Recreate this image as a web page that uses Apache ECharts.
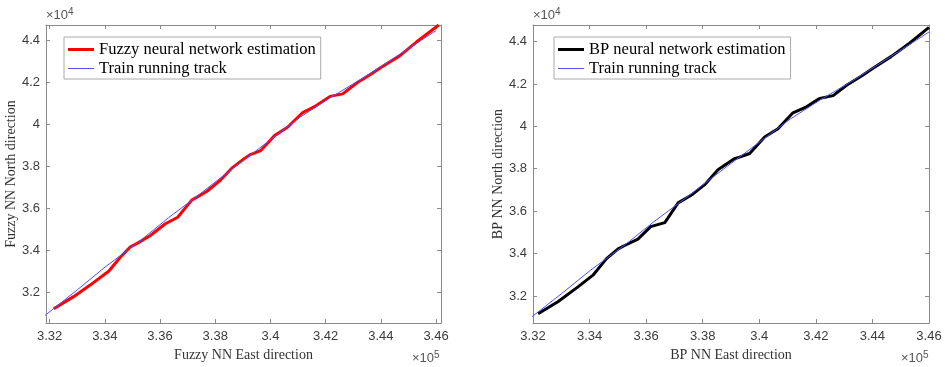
<!DOCTYPE html>
<html>
<head>
<meta charset="utf-8">
<script src="https://cdn.jsdelivr.net/npm/echarts@6/dist/echarts.min.js"></script>
<style>
html,body{margin:0;padding:0;background:#fff;}
#chart{width:945px;height:367px;}
</style>
</head>
<body>
<div id="chart"></div>
<script>
// Values in axis display units: East in ×10^5, North in ×10^4
const trackEast  = [3.3184, 3.3300, 3.3401, 3.3528, 3.3631, 3.3721, 3.3860, 3.3992, 3.4110, 3.4216, 3.4330, 3.4460, 3.4600];
const trackNorth = [3.089, 3.210, 3.319, 3.444, 3.554, 3.643, 3.785, 3.917, 4.035, 4.125, 4.215, 4.325, 4.445];

const fuzzyEast  = [3.3215, 3.3287, 3.3347, 3.3415, 3.3456, 3.3492, 3.3520, 3.3564, 3.3618, 3.3664, 3.3715, 3.3769, 3.3815, 3.3860, 3.3905, 3.3925, 3.3965, 3.4015, 3.4062, 3.4117, 3.4165, 3.4216, 3.4262, 3.4315, 3.4361, 3.4400, 3.4468, 3.4530, 3.4610];
const fuzzyNorth = [3.120, 3.178, 3.233, 3.300, 3.366, 3.414, 3.434, 3.468, 3.524, 3.556, 3.638, 3.679, 3.728, 3.790, 3.835, 3.853, 3.874, 3.945, 3.985, 4.055, 4.087, 4.132, 4.144, 4.198, 4.235, 4.270, 4.325, 4.392, 4.472];

const bpEast  = [3.3218, 3.3288, 3.3359, 3.3412, 3.3459, 3.3501, 3.3524, 3.3571, 3.3616, 3.3666, 3.3713, 3.3765, 3.3807, 3.3854, 3.3910, 3.3930, 3.3966, 3.4019, 3.4066, 3.4119, 3.4167, 3.4214, 3.4261, 3.4310, 3.4360, 3.4402, 3.4467, 3.4531, 3.4600];
const bpNorth = [3.116, 3.173, 3.243, 3.298, 3.375, 3.422, 3.438, 3.468, 3.527, 3.546, 3.639, 3.680, 3.725, 3.795, 3.846, 3.855, 3.872, 3.950, 3.989, 4.064, 4.092, 4.132, 4.145, 4.195, 4.236, 4.274, 4.330, 4.392, 4.467];

const xTicks = [3.32, 3.34, 3.36, 3.38, 3.40, 3.42, 3.44, 3.46];
const yTicks = [3.2, 3.4, 3.6, 3.8, 4.0, 4.2, 4.4];

const zip = (a, b) => a.map((v, i) => [v, b[i]]);
const fmt = v => String(parseFloat(v.toFixed(2)));

const axisCol = '#8a8a8a';
const labelCol = '#3c3c3c';
const sans = 'Liberation Sans';
const serif = 'Liberation Serif';

function xAx(grid, min, max, name, show) {
  return {
    type: 'value', gridIndex: grid, min: min, max: max,
    position: show ? 'bottom' : 'top',
    name: show ? name : '', nameLocation: 'middle', nameGap: 23,
    nameTextStyle: {fontFamily: serif, fontSize: 14, color: '#333'},
    axisLine: {show: true, onZero: false, lineStyle: {color: axisCol, width: 1}},
    axisTick: {show: true, inside: true, length: 4, customValues: xTicks, lineStyle: {color: axisCol}},
    axisLabel: {show: show, customValues: xTicks, formatter: fmt, margin: 7,
      fontFamily: sans, fontSize: 13, color: labelCol},
    splitLine: {show: false}
  };
}
function yAx(grid, min, max, name, show, gap) {
  return {
    type: 'value', gridIndex: grid, min: min, max: max,
    position: show ? 'left' : 'right',
    name: show ? name : '', nameLocation: 'middle', nameGap: gap,
    nameTextStyle: {fontFamily: serif, fontSize: 14, color: '#333'},
    axisLine: {show: true, onZero: false, lineStyle: {color: axisCol, width: 1}},
    axisTick: {show: true, inside: true, length: 4, customValues: yTicks, lineStyle: {color: axisCol}},
    axisLabel: {show: show, customValues: yTicks, formatter: fmt, margin: 6,
      fontFamily: sans, fontSize: 13, color: labelCol},
    splitLine: {show: false}
  };
}

const lineIcon = (w) => 'path://M0,0H26V' + w + 'H0Z';

function legend(left, estName) {
  return {
    left: left, top: 37, orient: 'vertical',
    backgroundColor: '#fff', borderColor: '#aaa', borderWidth: 1,
    padding: [4, 5, 2, 4], itemGap: 2, itemWidth: 26, itemHeight: 16,
    selectedMode: false,
    textStyle: {fontFamily: serif, fontSize: 16.5, color: '#000', lineHeight: 16},
    data: [
      {name: estName, icon: lineIcon(3)},
      {name: 'Train running track', icon: lineIcon(1)}
    ]
  };
}

function expText(left, top, e) {
  return {
    type: 'text', left: left, top: top,
    style: {
      text: '{b|×10}{s|' + e + '}',
      rich: {
        b: {fontFamily: sans, fontSize: 13, fill: '#555', verticalAlign: 'bottom', lineHeight: 15},
        s: {fontFamily: sans, fontSize: 10, fill: '#555', verticalAlign: 'top', lineHeight: 15, padding: [0, 0, 6, 0]}
      }
    }
  };
}

const chart = echarts.init(document.getElementById('chart'), null, {renderer: 'canvas'});
chart.setOption({
  animation: false,
  backgroundColor: '#fff',
  grid: [
    {left: 46, top: 25, width: 395, height: 302},
    {left: 533, top: 25, width: 396, height: 302}
  ],
  xAxis: [
    xAx(0, 3.3187, 3.4618, 'Fuzzy NN East direction', true),
    xAx(0, 3.3187, 3.4618, '', false),
    xAx(1, 3.32, 3.46, 'BP NN East direction', true),
    xAx(1, 3.32, 3.46, '', false)
  ],
  yAxis: [
    yAx(0, 3.052, 4.472, 'Fuzzy NN North direction', true, 26),
    yAx(0, 3.052, 4.472, '', false, 0),
    yAx(1, 3.072, 4.478, 'BP NN North direction', true, 25),
    yAx(1, 3.072, 4.478, '', false, 0)
  ],
  legend: [legend(64, 'Fuzzy neural network estimation'), legend(554, 'BP neural network estimation')],
  series: [
    {name: 'Fuzzy neural network estimation', type: 'line', xAxisIndex: 0, yAxisIndex: 0,
     data: zip(fuzzyEast, fuzzyNorth), showSymbol: false, symbol: 'none', clip: true,
     color: '#ff0000', lineStyle: {color: '#ff0000', width: 3}},
    {name: 'Train running track', type: 'line', xAxisIndex: 0, yAxisIndex: 0,
     data: zip(trackEast, trackNorth), showSymbol: false, symbol: 'none', clip: true,
     color: '#5050ff', lineStyle: {color: '#5050ff', width: 1}},
    {name: 'BP neural network estimation', type: 'line', xAxisIndex: 2, yAxisIndex: 2,
     data: zip(bpEast, bpNorth), showSymbol: false, symbol: 'none', clip: true,
     color: '#000000', lineStyle: {color: '#000000', width: 3}},
    {name: 'Train running track', type: 'line', xAxisIndex: 2, yAxisIndex: 2,
     data: zip(trackEast, trackNorth), showSymbol: false, symbol: 'none', clip: true,
     color: '#5050ff', lineStyle: {color: '#5050ff', width: 1}}
  ],
  graphic: [
    expText(46, 7, '4'),
    expText(412, 350, '5'),
    expText(533, 7, '4'),
    expText(901, 350, '5')
  ]
});
</script>
</body>
</html>
